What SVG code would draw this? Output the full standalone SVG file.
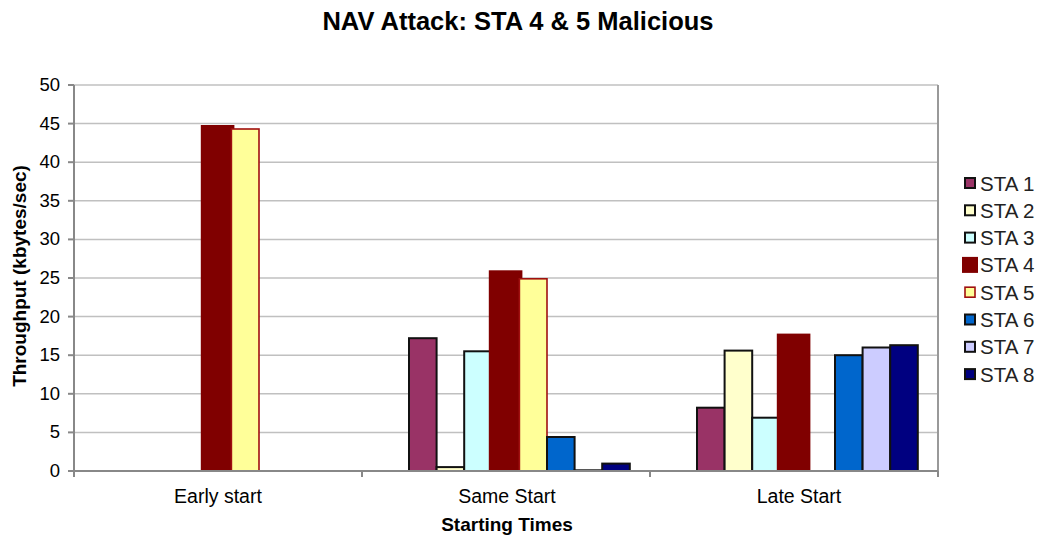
<svg xmlns="http://www.w3.org/2000/svg" width="1043" height="538" viewBox="0 0 1043 538">
<style>
text{font-family:"Liberation Sans",Arial,sans-serif;fill:#000}
.title{font-size:25.5px;font-weight:bold}
.axt{font-size:19px;font-weight:bold}
.tick{font-size:18.5px;fill:#222}
.cat{font-size:19.5px;fill:#222}
.leg{font-size:20.5px;fill:#222}
.grid{stroke:#c0c0c0;stroke-width:1.5}
.s1{fill:#993366;stroke:#111;stroke-width:2}
.s2{fill:#FFFFCC;stroke:#111;stroke-width:2}
.s3{fill:#CCFFFF;stroke:#111;stroke-width:2}
.s4{fill:#800000;stroke:none}
.s5{fill:#FFFF99;stroke:#A01010;stroke-width:1.6}
.s6{fill:#0066CC;stroke:#111;stroke-width:2}
.s7{fill:#CCCCFF;stroke:#111;stroke-width:2}
.s8{fill:#000080;stroke:#111;stroke-width:2}
</style>
<rect width="1043" height="538" fill="#fff"/>
<text class="title" x="518" y="30" text-anchor="middle">NAV Attack: STA 4 &amp; 5 Malicious</text>
<g id="grid">
<line class="grid" x1="74" y1="85" x2="938" y2="85"/>
<line class="grid" x1="74" y1="123.6" x2="938" y2="123.6"/>
<line class="grid" x1="74" y1="162.2" x2="938" y2="162.2"/>
<line class="grid" x1="74" y1="200.8" x2="938" y2="200.8"/>
<line class="grid" x1="74" y1="239.4" x2="938" y2="239.4"/>
<line class="grid" x1="74" y1="278" x2="938" y2="278"/>
<line class="grid" x1="74" y1="316.6" x2="938" y2="316.6"/>
<line class="grid" x1="74" y1="355.2" x2="938" y2="355.2"/>
<line class="grid" x1="74" y1="393.8" x2="938" y2="393.8"/>
<line class="grid" x1="74" y1="432.4" x2="938" y2="432.4"/>
<line x1="938" y1="85" x2="938" y2="471" stroke="#999" stroke-width="2"/>
</g>
<g id="yticks" class="tick" text-anchor="end">
<text x="60" y="91">50</text>
<text x="60" y="129.6">45</text>
<text x="60" y="168.2">40</text>
<text x="60" y="206.8">35</text>
<text x="60" y="245.4">30</text>
<text x="60" y="284">25</text>
<text x="60" y="322.6">20</text>
<text x="60" y="361.2">15</text>
<text x="60" y="399.8">10</text>
<text x="60" y="438.4">5</text>
<text x="60" y="477">0</text>
</g>
<g id="bars">
<rect class="s4" x="200.8" y="125" width="33.6" height="346"/>
<rect class="s5" x="231.4" y="129" width="27.6" height="342"/>

<rect class="s1" x="409" y="338.2" width="27.6" height="132.8"/>
<rect class="s2" x="436.6" y="467.1" width="27.6" height="3.9"/>
<rect class="s3" x="464.2" y="351.3" width="27.6" height="119.7"/>
<rect class="s4" x="488.8" y="270.3" width="33.6" height="200.7"/>
<rect class="s5" x="519.4" y="278.8" width="27.6" height="192.2"/>
<rect class="s6" x="547" y="437" width="27.6" height="34"/>
<rect class="s7" x="574.6" y="470.3" width="27.6" height="0.7"/>
<rect class="s8" x="602.2" y="463.6" width="27.6" height="7.4"/>

<rect class="s1" x="697" y="407.7" width="27.6" height="63.3"/>
<rect class="s2" x="724.6" y="350.6" width="27.6" height="120.4"/>
<rect class="s3" x="752.2" y="417.7" width="27.6" height="53.3"/>
<rect class="s4" x="776.8" y="333.6" width="33.6" height="137.4"/>
<rect class="s6" x="835" y="355.2" width="27.6" height="115.8"/>
<rect class="s7" x="862.6" y="347.5" width="27.6" height="123.5"/>
<rect class="s8" x="890.2" y="345.2" width="27.6" height="125.8"/>
</g>
<g id="axes" stroke="#888" stroke-width="2">
<line x1="74" y1="85" x2="74" y2="471"/>
<line x1="68" y1="471" x2="938" y2="471"/>
<line x1="68" y1="85" x2="74" y2="85"/>
<line x1="68" y1="123.6" x2="74" y2="123.6"/>
<line x1="68" y1="162.2" x2="74" y2="162.2"/>
<line x1="68" y1="200.8" x2="74" y2="200.8"/>
<line x1="68" y1="239.4" x2="74" y2="239.4"/>
<line x1="68" y1="278" x2="74" y2="278"/>
<line x1="68" y1="316.6" x2="74" y2="316.6"/>
<line x1="68" y1="355.2" x2="74" y2="355.2"/>
<line x1="68" y1="393.8" x2="74" y2="393.8"/>
<line x1="68" y1="432.4" x2="74" y2="432.4"/>
<line x1="74" y1="471" x2="74" y2="477"/>
<line x1="362" y1="471" x2="362" y2="477"/>
<line x1="650" y1="471" x2="650" y2="477"/>
<line x1="938" y1="471" x2="938" y2="477"/>
</g>
<g id="xlabels" class="cat" text-anchor="middle">
<text x="218" y="503">Early start</text>
<text x="507" y="503">Same Start</text>
<text x="799" y="503">Late Start</text>
</g>
<text class="axt" x="507" y="531" text-anchor="middle">Starting Times</text>
<text class="axt" transform="translate(26 276) rotate(-90)" text-anchor="middle">Throughput (kbytes/sec)</text>
<g id="legend">
<g id="leg1"><rect class="s1" x="965" y="178" width="10" height="10"/><text class="leg" x="980" y="190.5">STA 1</text></g>
<g id="leg2"><rect class="s2" x="965" y="205.3" width="10" height="10"/><text class="leg" x="980" y="217.8">STA 2</text></g>
<g id="leg3"><rect class="s3" x="965" y="232.6" width="10" height="10"/><text class="leg" x="980" y="245.1">STA 3</text></g>
<g id="leg4"><rect class="s4" x="962" y="256.9" width="16" height="16"/><text class="leg" x="980" y="272.4">STA 4</text></g>
<g id="leg5"><rect class="s5" x="965" y="287.2" width="10" height="10"/><text class="leg" x="980" y="299.7">STA 5</text></g>
<g id="leg6"><rect class="s6" x="965" y="314.5" width="10" height="10"/><text class="leg" x="980" y="327">STA 6</text></g>
<g id="leg7"><rect class="s7" x="965" y="341.8" width="10" height="10"/><text class="leg" x="980" y="354.3">STA 7</text></g>
<g id="leg8"><rect class="s8" x="965" y="369.1" width="10" height="10"/><text class="leg" x="980" y="381.6">STA 8</text></g>
</g>
</svg>
